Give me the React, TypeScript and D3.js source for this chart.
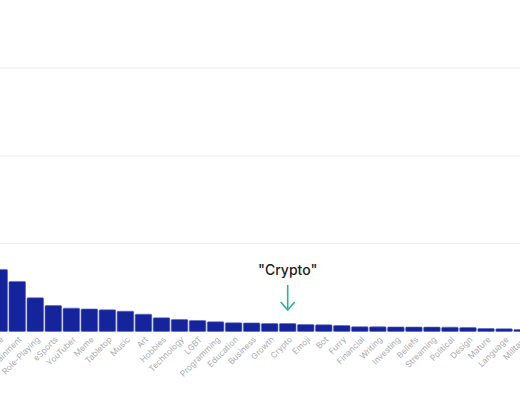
// App.tsx
import React from 'react';
import * as d3 from 'd3';

const categories: string[] = [
    "Anime", "Entertainment", "Role-Playing", "eSports", "YouTuber", "Meme",
    "Tabletop", "Music", "Art", "Hobbies", "Technology", "LGBT", "Programming",
    "Education", "Business", "Growth", "Crypto", "Emoji", "Bot", "Furry",
    "Financial", "Writing", "Investing", "Beliefs", "Streaming", "Political",
    "Design", "Mature", "Language", "Military"
];

// share of servers per category (%)
const shares: number[] = [
    7.07, 5.70, 3.84, 2.96, 2.66, 2.57,
    2.47, 2.31, 1.97, 1.56, 1.37, 1.25, 1.10,
    0.99, 0.98, 0.91, 0.91, 0.80, 0.76, 0.68,
    0.54, 0.53, 0.52, 0.51, 0.50, 0.49,
    0.46, 0.34, 0.31, 0.23
];

const gridTicks: number[] = [0, 10, 20, 30];
const highlight = "Crypto";

const W = 520;
const H = 400;

const App: React.FC = () => {
    const x = d3.scaleBand<string>()
        .domain(categories)
        .range([-9.8, -9.8 + categories.length * 18.03])
        .paddingInner(0.08)
        .paddingOuter(0.04);

    const y = d3.scaleLinear()
        .domain([0, 30])
        .range([331.5, 68]);

    const cx = (c: string) => (x(c) ?? 0) + x.bandwidth() / 2;
    const hx = cx(highlight);

    return (
        <svg width={W} height={H}
            style={{ position: 'absolute', left: 0, top: 0, background: '#fff' }}
            fontFamily="Inter, Roboto, 'Noto Sans', sans-serif">
            <g>
                {gridTicks.map(t => (
                    <line key={t} x1={0} x2={W} y1={y(t)} y2={y(t)}
                        stroke="#ececec" strokeWidth={1} />
                ))}
            </g>
            <g>
                {categories.map((c, i) => (
                    <rect key={c}
                        x={x(c)}
                        y={y(shares[i])}
                        width={x.bandwidth()}
                        height={y(0) - y(shares[i])}
                        rx={1}
                        fill="#16249c"
                        stroke="#5566cc"
                        strokeWidth={0.6} />
                ))}
            </g>
            <g>
                {categories.map(c => (
                    <text key={c}
                        transform={`translate(${cx(c) + 3}, 338) rotate(-45)`}
                        textAnchor="end"
                        dy="0.35em"
                        fontSize={8.3}
                        fill="#ababab">
                        {c}
                    </text>
                ))}
            </g>
            <g>
                <text x={hx} y={275} textAnchor="middle" fontSize={14}
                    fontWeight={500} fill="#222">
                    {`"${highlight}"`}
                </text>
                <line x1={hx} x2={hx} y1={285} y2={310}
                    stroke="#2bb597" strokeWidth={1.6} />
                <path d={`M${hx - 7},${302} L${hx},${310} L${hx + 7},${302}`}
                    fill="none" stroke="#2bb597" strokeWidth={1.6} />
            </g>
        </svg>
    );
};

export default App;
